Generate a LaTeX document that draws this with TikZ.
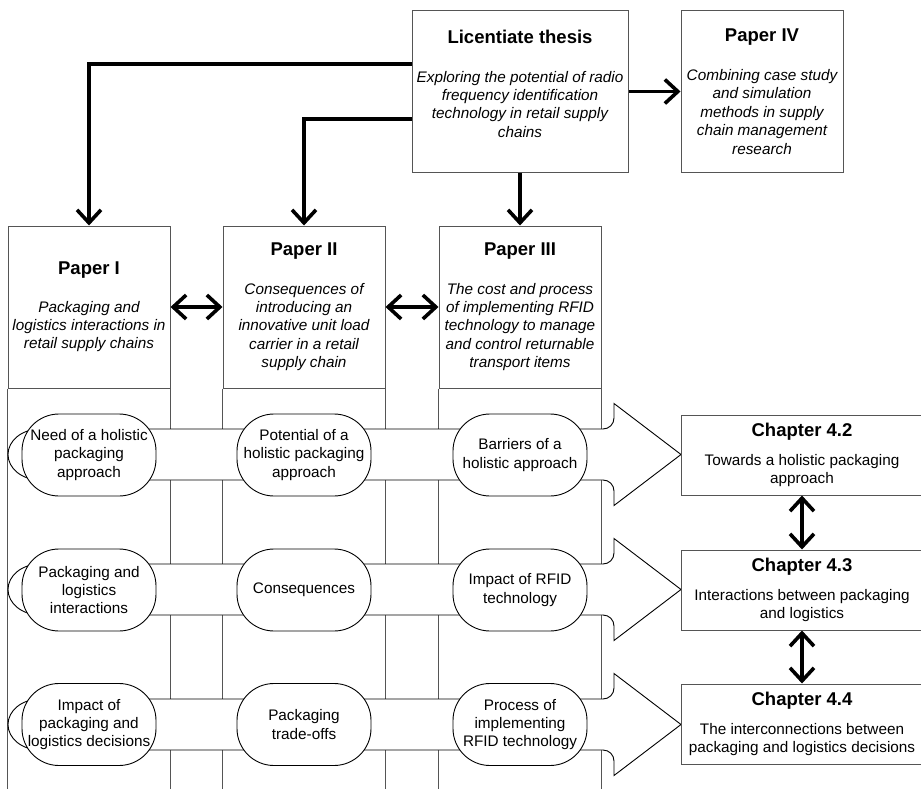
\documentclass[tikz,border=0pt]{standalone}
\usepackage{fontspec}
\setmainfont{Liberation Sans}
\usetikzlibrary{positioning,arrows.meta,calc}
\definecolor{edge}{HTML}{555555}
\newcommand{\hd}[1]{{\fontsize{18.5}{22}\selectfont\upshape\bfseries #1}}
\tikzset{
  txt/.style={align=center,inner sep=0pt,font=\fontsize{15.3}{18.4}\selectfont\itshape},
  box/.style={draw=edge,line width=1pt,fill=white,align=center,inner sep=2pt,font=\fontsize{15.3}{18.4}\selectfont},
  itbox/.style={box,font=\fontsize{15.3}{18.4}\selectfont\itshape},
  paperbox/.style={itbox,minimum width=162pt,minimum height=162pt},
  chapbox/.style={box,minimum width=242pt,minimum height=80pt},
  theme/.style={draw=black,line width=0.9pt,fill=white,rounded corners=37pt,minimum width=134pt,minimum height=82pt,align=center,inner sep=1pt,font=\fontsize{15.3}{18.4}\selectfont},
  bandline/.style={draw=black,line width=0.9pt,fill=white},
  colline/.style={draw=edge,line width=1pt},
  flow/.style={-{Straight Barb[length=13pt,width=24pt]},draw=black,line width=3.6pt},
  dflow/.style={{Straight Barb[length=13pt,width=24pt]}-{Straight Barb[length=13pt,width=24pt]},draw=black,line width=3.6pt}}

\begin{document}
\begin{tikzpicture}[x=1pt,y=1pt]
  \useasboundingbox (0,0) rectangle (921,-789);
  % top row
  \node[box,minimum width=216pt,minimum height=161pt] (lic) at (520,-91.5) {};
  \node[txt,anchor=north] at ([yshift=-19pt]lic.north) {\hd{Licentiate thesis}\\[20.6pt]Exploring the potential of radio\\frequency identification\\technology in retail supply\\chains};
  \node[itbox,minimum width=162pt,minimum height=161pt] (p4) at (762,-91.5) {\hd{Paper IV}\\[20.6pt]Combining case study\\and simulation\\methods in supply\\chain management\\research};
  % papers and their columns
  \node[paperbox] (p1) at (89,-307) {\hd{Paper I}\\[19pt]Packaging and\\logistics interactions in\\retail supply chains};
  \node[paperbox] (p2) at (304,-307) {\hd{Paper II}\\[20pt]Consequences of\\introducing an\\innovative unit load\\carrier in a retail\\supply chain};
  \node[paperbox] (p3) at (520,-307) {\hd{Paper III}\\[20pt]The cost and process\\of implementing RFID\\technology to manage\\and control returnable\\transport items};
  \draw[colline] (p1.south west) -- ++(0,-420);
  \draw[colline] (p1.south east) -- ++(0,-420);
  \draw[colline] (p2.south west) -- ++(0,-420);
  \draw[colline] (p2.south east) -- ++(0,-420);
  \draw[colline] (p3.south west) -- ++(0,-420);
  \draw[colline] (p3.south east) -- ++(0,-420);
  % block arrows
  \draw[bandline] (40,-429) -- (603,-429) arc[start angle=-90,end angle=0,radius=11pt] -- (614,-403.5) -- (681,-454.5) -- (614,-505.5) -- (614,-491) arc[start angle=0,end angle=90,radius=11pt] -- (40,-480) arc[start angle=270,end angle=90,x radius=32pt,y radius=25.5pt] -- cycle;
  \draw[bandline] (40,-564) -- (603,-564) arc[start angle=-90,end angle=0,radius=11pt] -- (614,-538.5) -- (681,-589.5) -- (614,-640.5) -- (614,-626) arc[start angle=0,end angle=90,radius=11pt] -- (40,-615) arc[start angle=270,end angle=90,x radius=32pt,y radius=25.5pt] -- cycle;
  \draw[bandline] (40,-699) -- (603,-699) arc[start angle=-90,end angle=0,radius=11pt] -- (614,-673.5) -- (681,-724.5) -- (614,-775.5) -- (614,-761) arc[start angle=0,end angle=90,radius=11pt] -- (40,-750) arc[start angle=270,end angle=90,x radius=32pt,y radius=25.5pt] -- cycle;
  % themes
  \node[theme] (need) at (89,-455) {Need of a holistic\\packaging\\approach};
  \node[theme] (pot) at (304,-455) {Potential of a\\holistic packaging\\approach};
  \node[theme] (barr) at (520,-455) {Barriers of a\\holistic approach};
  \node[theme] (inter) at (89,-590) {Packaging and\\logistics\\interactions};
  \node[theme] (cons) at (304,-590) {Consequences};
  \node[theme] (rfid) at (520,-590) {Impact of RFID\\technology};
  \node[theme] (impact) at (89,-724.5) {Impact of\\packaging and\\logistics decisions};
  \node[theme] (trade) at (304,-724.5) {Packaging\\trade-offs};
  \node[theme] (proc) at (520,-724.5) {Process of\\implementing\\RFID technology};
  % chapters
  \node[chapbox] (c42) at (802,-455) {\hd{Chapter 4.2}\\[10.6pt]Towards a holistic packaging\\approach};
  \node[chapbox] (c43) at (802,-590) {\hd{Chapter 4.3}\\[10.6pt]Interactions between packaging\\and logistics};
  \node[chapbox] (c44) at (802,-724) {\hd{Chapter 4.4}\\[10.6pt]The interconnections between\\packaging and logistics decisions};
  % connectors
  \draw[flow] ($(lic.north west)!0.33!(lic.south west)$) -| (p1.north);
  \draw[flow] ($(lic.north west)!0.67!(lic.south west)$) -| (p2.north);
  \draw[flow] (lic.south) -- (p3.north);
  \draw[flow] (lic.east) -- (p4.west);
  \draw[dflow] (p1.east) -- (p2.west);
  \draw[dflow] (p2.east) -- (p3.west);
  \draw[dflow] (c42.south) -- (c43.north);
  \draw[dflow] (c43.south) -- (c44.north);
\end{tikzpicture}
\end{document}
